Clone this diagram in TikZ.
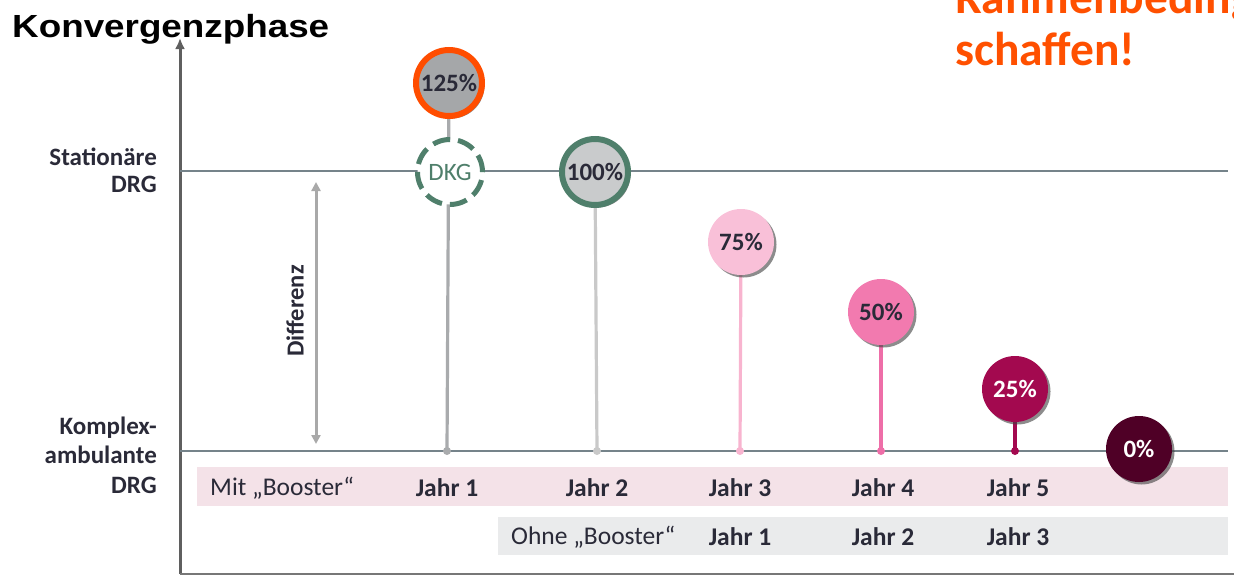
\documentclass[tikz,border=0pt]{standalone}
\usepackage{fontspec}
\setmainfont{Carlito}
\newfontfamily\headfont{Liberation Sans}
\usetikzlibrary{arrows.meta,shadows}

\definecolor{axisgray}{HTML}{5F5F5F}
\definecolor{levelline}{HTML}{75838A}
\definecolor{labeltext}{HTML}{2A2A38}
\definecolor{accent}{HTML}{FF5000}
\definecolor{ringorange}{HTML}{FF4D00}
\definecolor{ringgreen}{HTML}{4F7F6B}
\definecolor{fillA}{HTML}{A5A7A9}
\definecolor{fillB}{HTML}{C9CBCC}
\definecolor{stemA}{HTML}{A9ABAD}
\definecolor{stemB}{HTML}{C9C9C9}
\definecolor{fillC}{HTML}{F9C0D8}
\definecolor{stemC}{HTML}{F8B4CF}
\definecolor{fillD}{HTML}{F27AAF}
\definecolor{stemD}{HTML}{EE6EA8}
\definecolor{fillE}{HTML}{A3094F}
\definecolor{fillF}{HTML}{4F0026}
\definecolor{bandpink}{HTML}{F4E2E8}
\definecolor{bandgray}{HTML}{EAEBEC}
\definecolor{diffgray}{HTML}{A9A9A9}

\tikzset{
  levelstyle/.style={draw=levelline, line width=2.2pt},
  sidelabel/.style={text=labeltext, align=right, anchor=base east, inner sep=0pt},
  rowlabel/.style={font=\fontsize{25.5}{30}\selectfont, text=labeltext, inner sep=0pt},
  yearlabel/.style={font=\fontsize{25.5}{30}\selectfont\bfseries, text=labeltext, inner sep=0pt},
  bubble/.style={circle, minimum size=#1, inner sep=0pt,
    font=\fontsize{25}{30}\selectfont\bfseries, text=labeltext,
    drop shadow={shadow xshift=2.5pt, shadow yshift=-2.5pt, opacity=0.6, fill=black!75}},
  stem/.style={line width=3.2pt},
  stemdot/.style={circle, inner sep=0pt, minimum size=8pt},
}

\begin{document}
\begin{tikzpicture}[x=1pt, y=-1pt]
\useasboundingbox (0,0) rectangle (1234,576);

% headline and call-out
\node[anchor=base west, inner sep=0pt, font=\headfont\bfseries\fontsize{32}{36}\selectfont, xscale=1.15] (title) at (12,37) {Konvergenzphase};
\begin{scope}
  \clip (0,0) rectangle (1234,576);
  \node[anchor=base west, inner sep=0pt, text=accent, font=\fontsize{47.5}{52}\selectfont\bfseries, align=left] (callout) at (955,65) {Rahmenbedingungen\\schaffen!};
\end{scope}

% bands with the year rows
\fill[bandpink] (197,467) rectangle (1228,506);
\fill[bandgray] (498,517) rectangle (1228,555);
\node[rowlabel, anchor=west] (mit) at (210,488) {Mit „Booster“};
\node[rowlabel, anchor=west] (ohne) at (511,537) {Ohne „Booster“};
\foreach \x/\t [count=\i] in {447/Jahr 1, 597/Jahr 2, 740/Jahr 3, 883/Jahr 4, 1018/Jahr 5}
  \node[yearlabel] (m\i) at (\x,488) {\t};
\foreach \x/\t [count=\i] in {740/Jahr 1, 883/Jahr 2, 1018/Jahr 3}
  \node[yearlabel] (o\i) at (\x,537) {\t};

% axes
\coordinate (origin) at (180,574);
\coordinate (ytop) at (180,38);
\coordinate (xend) at (1234,574);
\draw[axisgray, line width=3pt, -{Latex[length=11pt,width=10pt]}] (origin) -- (ytop);
\draw[axisgray!85, line width=2.5pt] (origin) -- (xend);

% reference levels
\coordinate (statL) at (180,171);
\coordinate (statR) at (1228,171);
\coordinate (ambL) at (180,451);
\coordinate (ambR) at (1228,451);
\draw[levelstyle] (statL) -- (statR);
\draw[levelstyle] (ambL) -- (ambR);

\node[sidelabel, font=\fontsize{25}{27}\selectfont\bfseries] (stat) at (157,192) {Stationäre\\DRG};
\node[sidelabel, font=\fontsize{25}{29.5}\selectfont\bfseries] (amb) at (157,493) {Komplex-\\ambulante\\DRG};

% difference arrow
\coordinate (dtop) at (316,182);
\coordinate (dbot) at (316,444);
\draw[diffgray, line width=3pt, {Triangle[length=9pt,width=9pt]}-{Triangle[length=9pt,width=9pt]}] (dtop) -- (dbot);
\node[rotate=90, font=\fontsize{24.5}{28}\selectfont\bfseries, text=labeltext, inner sep=0pt] (diff) at (295,311) {Differenz};

% stem feet
\node[stemdot, fill=stemA] (f1) at (447,451) {};
\node[stemdot, fill=stemB] (f2) at (597,451) {};
\node[stemdot, fill=stemC] (f3) at (740,451) {};
\node[stemdot, fill=stemD] (f4) at (881,451) {};
\node[stemdot, fill=fillE] (f5) at (1015,451) {};

% bubbles
\coordinate (p125) at (449,83);
\coordinate (pdkg) at (450,172);
\coordinate (p100) at (595,172);
\coordinate (p75) at (741,242);
\coordinate (p50) at (881,312);
\coordinate (p25) at (1015,389);
\coordinate (p0) at (1139,449);

\draw[stem, stemA] (f1.center) -- (p125);
\draw[stem, stemB] (f2.center) -- (p100);
\draw[stem, stemC] (f3.center) -- (p75);
\draw[stem, stemD] (f4.center) -- (p50);
\draw[stem, fillE] (f5.center) -- (p25);

\node[bubble=66pt, fill=fillA, draw=ringorange, line width=6pt] (b125) at (p125) {125\%};
\node[circle, minimum size=65pt, inner sep=0pt, fill=white, draw=ringgreen, line width=5pt, dash pattern=on 17.5pt off 8pt, font=\fontsize{25}{30}\selectfont, text=ringgreen] (bdkg) at (pdkg) {DKG};
\node[bubble=66pt, fill=fillB, draw=ringgreen, line width=6pt] (b100) at (p100) {100\%};
\node[bubble=66pt, fill=fillC] (b75) at (p75) {75\%};
\node[bubble=66pt, fill=fillD] (b50) at (p50) {50\%};
\node[bubble=66pt, fill=fillE, text=white] (b25) at (p25) {25\%};
\node[bubble=66pt, fill=fillF, text=white] (b0) at (p0) {0\%};
\end{tikzpicture}
\end{document}
